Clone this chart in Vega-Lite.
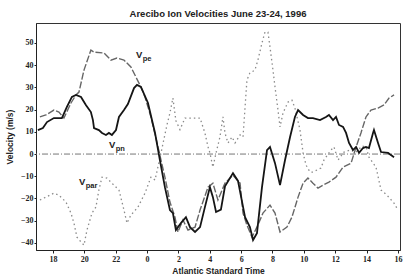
{
  "$schema": "https://vega.github.io/schema/vega-lite/v6.json",
  "width": 364,
  "height": 227,
  "autosize": {"type": "none"},
  "padding": {"left": 36, "top": 23, "right": 4, "bottom": 25},
  "background": "white",
  "title": {"text": "Arecibo Ion Velocities June 23-24, 1996", "font": "Liberation Sans", "fontSize": 9.5, "fontWeight": "bold", "color": "#222", "anchor": "middle", "offset": 5},
  "config": {
    "view": {"stroke": "#333", "strokeWidth": 1},
    "axis": {"domainColor": "#222", "tickColor": "#222", "labelColor": "#222", "titleColor": "#222", "grid": false, "labelFont": "Liberation Serif", "labelFontWeight": "bold", "labelFontSize": 8, "labelOverlap": false, "labelFlush": false, "titleFont": "Liberation Sans", "titleFontSize": 8.5, "titleFontWeight": "bold"}
  },
  "datasets": {
    "curves": [
      {"s": "pe", "h": 17.17, "v": 16.7}, {"s": "pe", "h": 17.55, "v": 17.6}, {"s": "pe", "h": 18.06, "v": 19.8}, {"s": "pe", "h": 18.38, "v": 18.9}, {"s": "pe", "h": 18.7, "v": 16.2}, {"s": "pe", "h": 19.15, "v": 23.0}, {"s": "pe", "h": 19.47, "v": 26.6}, {"s": "pe", "h": 19.66, "v": 27.9}, {"s": "pe", "h": 19.98, "v": 37.8}, {"s": "pe", "h": 20.42, "v": 46.8}, {"s": "pe", "h": 20.62, "v": 45.9}, {"s": "pe", "h": 21.25, "v": 45.5}, {"s": "pe", "h": 21.7, "v": 42.3}, {"s": "pe", "h": 22.08, "v": 43.2}, {"s": "pe", "h": 22.53, "v": 42.3}, {"s": "pe", "h": 22.97, "v": 39.2}, {"s": "pe", "h": 23.61, "v": 30.2}, {"s": "pe", "h": 23.87, "v": 25.7}, {"s": "pe", "h": 24.25, "v": 16.7}, {"s": "pe", "h": 24.7, "v": 3.2}, {"s": "pe", "h": 25.14, "v": -10.4}, {"s": "pe", "h": 25.46, "v": -21.6}, {"s": "pe", "h": 25.78, "v": -28.4}, {"s": "pe", "h": 25.97, "v": -35.1}, {"s": "pe", "h": 26.29, "v": -29.7}, {"s": "pe", "h": 26.61, "v": -34.2}, {"s": "pe", "h": 27.06, "v": -32.9}, {"s": "pe", "h": 27.38, "v": -25.2}, {"s": "pe", "h": 27.89, "v": -14.9}, {"s": "pe", "h": 28.2, "v": -13.1}, {"s": "pe", "h": 28.52, "v": -20.7}, {"s": "pe", "h": 28.97, "v": -13.1}, {"s": "pe", "h": 29.48, "v": -9.5}, {"s": "pe", "h": 29.93, "v": -13.1}, {"s": "pe", "h": 30.12, "v": -26.6}, {"s": "pe", "h": 30.37, "v": -32.0}, {"s": "pe", "h": 30.69, "v": -37.4}, {"s": "pe", "h": 31.07, "v": -32.0}, {"s": "pe", "h": 31.39, "v": -26.6}, {"s": "pe", "h": 31.84, "v": -23.0}, {"s": "pe", "h": 32.16, "v": -26.6}, {"s": "pe", "h": 32.48, "v": -35.1}, {"s": "pe", "h": 32.92, "v": -32.9}, {"s": "pe", "h": 33.24, "v": -28.4}, {"s": "pe", "h": 33.63, "v": -19.4}, {"s": "pe", "h": 33.95, "v": -13.1}, {"s": "pe", "h": 34.26, "v": -10.8}, {"s": "pe", "h": 34.58, "v": -13.1}, {"s": "pe", "h": 34.9, "v": -15.3}, {"s": "pe", "h": 35.22, "v": -14.0}, {"s": "pe", "h": 35.6, "v": -12.6}, {"s": "pe", "h": 36.05, "v": -10.4}, {"s": "pe", "h": 36.5, "v": -5.9}, {"s": "pe", "h": 37.01, "v": -4.1}, {"s": "pe", "h": 37.33, "v": 3.2}, {"s": "pe", "h": 37.64, "v": 9.5}, {"s": "pe", "h": 37.96, "v": 16.7}, {"s": "pe", "h": 38.28, "v": 19.8}, {"s": "pe", "h": 38.73, "v": 20.7}, {"s": "pe", "h": 39.11, "v": 22.1}, {"s": "pe", "h": 39.43, "v": 25.2}, {"s": "pe", "h": 39.75, "v": 26.6},
      {"s": "pn", "h": 17.04, "v": 10.8}, {"s": "pn", "h": 17.36, "v": 11.7}, {"s": "pn", "h": 17.62, "v": 14.4}, {"s": "pn", "h": 18.06, "v": 16.2}, {"s": "pn", "h": 18.57, "v": 16.2}, {"s": "pn", "h": 18.89, "v": 21.2}, {"s": "pn", "h": 19.21, "v": 25.7}, {"s": "pn", "h": 19.47, "v": 26.6}, {"s": "pn", "h": 19.79, "v": 25.7}, {"s": "pn", "h": 20.1, "v": 22.1}, {"s": "pn", "h": 20.42, "v": 18.9}, {"s": "pn", "h": 20.55, "v": 15.3}, {"s": "pn", "h": 20.62, "v": 11.7}, {"s": "pn", "h": 20.93, "v": 10.8}, {"s": "pn", "h": 21.13, "v": 9.5}, {"s": "pn", "h": 21.38, "v": 8.6}, {"s": "pn", "h": 21.57, "v": 9.5}, {"s": "pn", "h": 21.76, "v": 8.6}, {"s": "pn", "h": 22.02, "v": 10.8}, {"s": "pn", "h": 22.21, "v": 16.7}, {"s": "pn", "h": 22.53, "v": 19.8}, {"s": "pn", "h": 22.78, "v": 22.5}, {"s": "pn", "h": 23.17, "v": 29.7}, {"s": "pn", "h": 23.36, "v": 31.1}, {"s": "pn", "h": 23.61, "v": 30.2}, {"s": "pn", "h": 24.06, "v": 23.0}, {"s": "pn", "h": 24.51, "v": 9.5}, {"s": "pn", "h": 24.82, "v": -2.7}, {"s": "pn", "h": 25.14, "v": -14.9}, {"s": "pn", "h": 25.46, "v": -25.2}, {"s": "pn", "h": 25.65, "v": -26.6}, {"s": "pn", "h": 25.84, "v": -34.2}, {"s": "pn", "h": 26.16, "v": -31.1}, {"s": "pn", "h": 26.48, "v": -28.4}, {"s": "pn", "h": 26.74, "v": -32.9}, {"s": "pn", "h": 27.06, "v": -35.1}, {"s": "pn", "h": 27.38, "v": -32.9}, {"s": "pn", "h": 27.69, "v": -23.9}, {"s": "pn", "h": 28.01, "v": -14.9}, {"s": "pn", "h": 28.2, "v": -19.4}, {"s": "pn", "h": 28.4, "v": -26.1}, {"s": "pn", "h": 28.71, "v": -25.0}, {"s": "pn", "h": 28.97, "v": -14.5}, {"s": "pn", "h": 29.48, "v": -8.6}, {"s": "pn", "h": 29.8, "v": -12.1}, {"s": "pn", "h": 30.05, "v": -21.2}, {"s": "pn", "h": 30.25, "v": -28.4}, {"s": "pn", "h": 30.56, "v": -32.9}, {"s": "pn", "h": 30.76, "v": -38.7}, {"s": "pn", "h": 31.01, "v": -35.6}, {"s": "pn", "h": 31.33, "v": -14.9}, {"s": "pn", "h": 31.65, "v": 1.8}, {"s": "pn", "h": 31.84, "v": 3.2}, {"s": "pn", "h": 32.16, "v": -4.1}, {"s": "pn", "h": 32.48, "v": -14.0}, {"s": "pn", "h": 32.8, "v": -2.7}, {"s": "pn", "h": 33.12, "v": 7.7}, {"s": "pn", "h": 33.43, "v": 16.7}, {"s": "pn", "h": 33.63, "v": 19.8}, {"s": "pn", "h": 33.95, "v": 17.6}, {"s": "pn", "h": 34.26, "v": 16.2}, {"s": "pn", "h": 34.58, "v": 16.2}, {"s": "pn", "h": 35.03, "v": 15.3}, {"s": "pn", "h": 35.41, "v": 16.7}, {"s": "pn", "h": 35.6, "v": 17.6}, {"s": "pn", "h": 35.86, "v": 15.3}, {"s": "pn", "h": 36.05, "v": 16.7}, {"s": "pn", "h": 36.24, "v": 13.1}, {"s": "pn", "h": 36.5, "v": 12.2}, {"s": "pn", "h": 36.69, "v": 9.5}, {"s": "pn", "h": 36.88, "v": 5.0}, {"s": "pn", "h": 37.13, "v": 1.8}, {"s": "pn", "h": 37.33, "v": 3.2}, {"s": "pn", "h": 37.52, "v": 0.5}, {"s": "pn", "h": 37.77, "v": 2.7}, {"s": "pn", "h": 37.96, "v": 3.2}, {"s": "pn", "h": 38.15, "v": 2.7}, {"s": "pn", "h": 38.41, "v": 9.5}, {"s": "pn", "h": 38.47, "v": 10.8}, {"s": "pn", "h": 38.73, "v": 5.0}, {"s": "pn", "h": 38.92, "v": 0.9}, {"s": "pn", "h": 39.37, "v": 0.5}, {"s": "pn", "h": 39.75, "v": -1.4},
      {"s": "par", "h": 17.17, "v": -20.7}, {"s": "par", "h": 17.43, "v": -19.8}, {"s": "par", "h": 18.06, "v": -17.6}, {"s": "par", "h": 18.38, "v": -18.5}, {"s": "par", "h": 18.83, "v": -21.6}, {"s": "par", "h": 19.15, "v": -26.6}, {"s": "par", "h": 19.34, "v": -31.1}, {"s": "par", "h": 19.53, "v": -37.4}, {"s": "par", "h": 19.85, "v": -40.1}, {"s": "par", "h": 19.98, "v": -41.0}, {"s": "par", "h": 20.17, "v": -34.2}, {"s": "par", "h": 20.49, "v": -26.6}, {"s": "par", "h": 20.74, "v": -23.9}, {"s": "par", "h": 20.93, "v": -16.2}, {"s": "par", "h": 21.13, "v": -10.4}, {"s": "par", "h": 21.44, "v": -10.8}, {"s": "par", "h": 21.76, "v": -13.1}, {"s": "par", "h": 22.21, "v": -16.2}, {"s": "par", "h": 22.53, "v": -25.2}, {"s": "par", "h": 22.72, "v": -31.1}, {"s": "par", "h": 22.97, "v": -27.5}, {"s": "par", "h": 23.42, "v": -23.9}, {"s": "par", "h": 23.87, "v": -17.6}, {"s": "par", "h": 24.25, "v": -10.4}, {"s": "par", "h": 24.51, "v": -11.7}, {"s": "par", "h": 24.89, "v": 0.5}, {"s": "par", "h": 25.27, "v": 13.1}, {"s": "par", "h": 25.46, "v": 18.5}, {"s": "par", "h": 25.65, "v": 25.2}, {"s": "par", "h": 25.84, "v": 15.0}, {"s": "par", "h": 26.1, "v": 11.0}, {"s": "par", "h": 26.42, "v": 16.2}, {"s": "par", "h": 26.74, "v": 16.2}, {"s": "par", "h": 27.38, "v": 16.2}, {"s": "par", "h": 27.69, "v": 9.5}, {"s": "par", "h": 27.89, "v": 3.2}, {"s": "par", "h": 28.01, "v": 0.5}, {"s": "par", "h": 28.2, "v": -5.9}, {"s": "par", "h": 28.4, "v": 0.5}, {"s": "par", "h": 28.65, "v": 7.7}, {"s": "par", "h": 28.84, "v": 16.7}, {"s": "par", "h": 28.97, "v": 9.5}, {"s": "par", "h": 29.16, "v": 5.0}, {"s": "par", "h": 29.42, "v": 7.7}, {"s": "par", "h": 29.61, "v": 5.0}, {"s": "par", "h": 29.93, "v": 8.6}, {"s": "par", "h": 30.12, "v": 7.7}, {"s": "par", "h": 30.37, "v": 33.3}, {"s": "par", "h": 30.56, "v": 36.5}, {"s": "par", "h": 30.88, "v": 37.8}, {"s": "par", "h": 31.07, "v": 42.3}, {"s": "par", "h": 31.33, "v": 50.0}, {"s": "par", "h": 31.52, "v": 54.9}, {"s": "par", "h": 31.71, "v": 54.9}, {"s": "par", "h": 31.84, "v": 48.2}, {"s": "par", "h": 32.03, "v": 37.8}, {"s": "par", "h": 32.16, "v": 30.2}, {"s": "par", "h": 32.35, "v": 19.8}, {"s": "par", "h": 32.48, "v": 12.2}, {"s": "par", "h": 32.67, "v": 18.5}, {"s": "par", "h": 32.99, "v": 23.4}, {"s": "par", "h": 33.24, "v": 24.3}, {"s": "par", "h": 33.43, "v": 20.7}, {"s": "par", "h": 33.75, "v": 11.0}, {"s": "par", "h": 33.95, "v": 0.5}, {"s": "par", "h": 34.14, "v": -5.0}, {"s": "par", "h": 34.39, "v": -8.1}, {"s": "par", "h": 34.58, "v": -8.1}, {"s": "par", "h": 35.09, "v": -6.3}, {"s": "par", "h": 35.28, "v": -2.7}, {"s": "par", "h": 35.73, "v": 1.8}, {"s": "par", "h": 35.92, "v": 3.2}, {"s": "par", "h": 36.18, "v": -2.7}, {"s": "par", "h": 36.56, "v": 0.9}, {"s": "par", "h": 36.94, "v": 1.8}, {"s": "par", "h": 37.33, "v": 0.9}, {"s": "par", "h": 37.71, "v": 3.6}, {"s": "par", "h": 37.96, "v": 3.2}, {"s": "par", "h": 38.15, "v": -1.4}, {"s": "par", "h": 38.6, "v": -5.9}, {"s": "par", "h": 38.92, "v": -16.2}, {"s": "par", "h": 39.3, "v": -18.5}, {"s": "par", "h": 39.75, "v": -22.1}, {"s": "par", "h": 40.0, "v": -25.2}
    ],
    "labels": [
      {"t": "V", "h": 23.29, "v": 44.6, "k": "main"},
      {"t": "pe", "h": 23.72, "v": 42.8, "k": "sub"},
      {"t": "V", "h": 21.57, "v": 4.1, "k": "main"},
      {"t": "pn", "h": 22.0, "v": 2.3, "k": "sub"},
      {"t": "V", "h": 19.66, "v": -12.6, "k": "main"},
      {"t": "par", "h": 20.09, "v": -14.4, "k": "sub"}
    ]
  },
  "encoding": {
    "x": {"field": "h", "type": "quantitative", "scale": {"domain": [16.92, 40.13], "nice": false, "zero": false},
      "axis": {"values": [18, 20, 22, 24, 26, 28, 30, 32, 34, 36, 38, 40], "labelExpr": "datum.value % 24", "labelOverlap": false, "labelFlush": false, "tickSize": 3, "labelPadding": 2, "title": "Atlantic Standard Time", "titlePadding": 3}},
    "y": {"field": "v", "type": "quantitative", "scale": {"domain": [-43.2, 59], "nice": false, "zero": false},
      "axis": {"values": [-40, -30, -20, -10, 0, 10, 20, 30, 40, 50], "labelOverlap": false, "labelFlush": false, "tickSize": 2, "labelPadding": 1, "title": "Velocity (m/s)", "titlePadding": 6}}
  },
  "layer": [
    {
      "data": {"values": [{"v": 0}]},
      "mark": {"type": "rule", "color": "#777", "strokeWidth": 1, "strokeDash": [6, 2, 1, 2]},
      "encoding": {"x": null}
    },
    {
      "data": {"name": "curves"},
      "transform": [{"filter": "datum.s === 'par'"}],
      "mark": {"type": "line", "color": "#8a8a8a", "strokeWidth": 1.3, "strokeDash": [1.5, 3]}
    },
    {
      "data": {"name": "curves"},
      "transform": [{"filter": "datum.s === 'pe'"}],
      "mark": {"type": "line", "color": "#666", "strokeWidth": 1.4, "strokeDash": [7, 2]}
    },
    {
      "data": {"name": "curves"},
      "transform": [{"filter": "datum.s === 'pn'"}],
      "mark": {"type": "line", "color": "#151515", "strokeWidth": 1.8}
    },
    {
      "data": {"name": "labels"},
      "transform": [{"filter": "datum.k === 'main'"}],
      "mark": {"type": "text", "align": "left", "baseline": "middle", "font": "Liberation Sans", "fontSize": 9.5, "fontWeight": "bold", "color": "#222"},
      "encoding": {"text": {"field": "t"}}
    },
    {
      "data": {"name": "labels"},
      "transform": [{"filter": "datum.k === 'sub'"}],
      "mark": {"type": "text", "align": "left", "baseline": "middle", "font": "Liberation Sans", "fontSize": 7.5, "fontWeight": "bold", "color": "#222"},
      "encoding": {"text": {"field": "t"}}
    }
  ]
}
